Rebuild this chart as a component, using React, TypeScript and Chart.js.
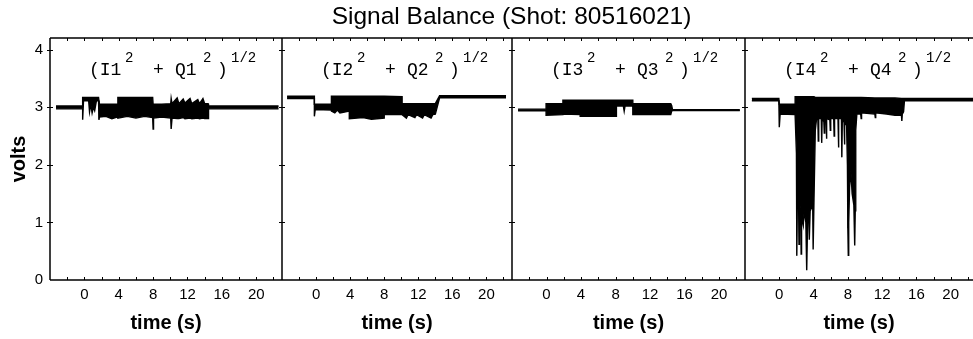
import React, { useEffect, useRef } from 'react';
import { Chart, registerables } from 'chart.js';

Chart.register(...registerables);

const TITLE = 'Signal Balance (Shot: 80516021)';
const Y_TITLE = 'volts';
const X_TITLE = 'time (s)';
const PANEL_IDS = ['1', '2', '3', '4'];
const X_MIN = -4;
const X_MAX = [23, 23, 23, 22.6];
const Y_MIN = 0;
const Y_MAX = 4.2;
const X_TICK_LABELS = [0, 4, 8, 12, 16, 20];

// Panel 1: (I1^2 + Q1^2)^1/2
const P1_TIME = [-3.3, -0.2, -0.2, -0.1, 0.5, 0.6, 0.75, 0.9, 1.05, 1.2, 1.4, 1.65, 1.7, 1.75, 2.5, 3.2, 3.9, 3.9, 5.0, 6.0, 7.0, 7.95, 8.0, 8.05, 9.0, 10.05, 10.1, 10.2, 10.8, 11.0, 11.5, 11.7, 12.3, 12.5, 13.2, 13.4, 13.8, 14.0, 14.4, 14.45, 22.6];
const P1_UPPER = [3.02, 3.02, 3.17, 3.17, 3.17, 3.17, 3.17, 3.17, 3.17, 3.17, 3.17, 3.17, 3.17, 3.05, 3.05, 3.05, 3.05, 3.17, 3.17, 3.17, 3.17, 3.17, 3.05, 3.05, 3.05, 3.06, 3.15, 3.06, 3.16, 3.06, 3.14, 3.07, 3.15, 3.06, 3.13, 3.06, 3.15, 3.06, 3.06, 3.02, 3.02];
const P1_LOWER = [2.97, 2.97, 2.78, 3.11, 3.11, 2.92, 3.05, 2.90, 3.0, 2.94, 3.11, 3.11, 2.78, 2.83, 2.84, 2.80, 2.83, 2.81, 2.84, 2.81, 2.84, 2.82, 2.62, 2.81, 2.83, 2.81, 2.62, 2.81, 2.80, 2.80, 2.82, 2.80, 2.81, 2.80, 2.81, 2.80, 2.81, 2.80, 2.80, 2.97, 2.97];

// Panel 2: (I2^2 + Q2^2)^1/2
const P2_TIME = [-3.4, -0.2, -0.2, -0.1, 1.8, 1.8, 2.2, 2.5, 2.8, 3.9, 3.9, 5.5, 6.5, 8.0, 8.0, 10.1, 10.1, 10.6, 10.8, 11.6, 11.8, 12.5, 12.7, 13.5, 13.7, 14.0, 14.5, 22.3];
const P2_UPPER = [3.19, 3.19, 3.05, 3.05, 3.05, 3.19, 3.19, 3.19, 3.19, 3.19, 3.19, 3.19, 3.19, 3.19, 3.19, 3.18, 3.06, 3.06, 3.06, 3.06, 3.06, 3.06, 3.06, 3.06, 3.06, 3.06, 3.20, 3.20];
const P2_LOWER = [3.15, 3.15, 2.84, 2.96, 2.95, 2.93, 2.90, 2.95, 2.90, 2.93, 2.80, 2.82, 2.79, 2.81, 2.87, 2.87, 2.87, 2.81, 2.87, 2.82, 2.87, 2.81, 2.87, 2.81, 2.87, 2.88, 3.16, 3.16];

// Panel 3: (I3^2 + Q3^2)^1/2
const P3_TIME = [-3.3, -0.05, -0.05, 1.9, 1.9, 3.9, 3.9, 8.1, 8.1, 8.9, 9.0, 9.1, 10.0, 10.0, 14.4, 14.5, 14.6, 22.4];
const P3_UPPER = [2.965, 2.965, 3.06, 3.06, 3.12, 3.12, 3.12, 3.12, 3.12, 3.12, 3.12, 3.12, 3.12, 3.06, 3.06, 3.03, 2.955, 2.955];
const P3_LOWER = [2.935, 2.935, 2.86, 2.87, 2.88, 2.87, 2.84, 2.84, 3.02, 3.02, 2.93, 3.02, 3.02, 2.87, 2.87, 2.93, 2.94, 2.94];

// Panel 4: (I4^2 + Q4^2)^1/2
const P4_TIME = [-3.2, -0.05, 0.0, 0.1, 1.85, 1.85, 2.0, 2.03, 2.06, 2.1, 2.25, 2.3, 2.35, 2.5, 2.55, 2.6, 2.8, 2.9, 3.1, 3.2, 3.3, 3.45, 3.5, 3.6, 3.9, 3.95, 4.05, 4.2, 4.35, 4.5, 4.55, 4.6, 4.9, 4.95, 5.0, 5.2, 5.25, 5.3, 5.45, 5.5, 5.55, 5.9, 5.95, 6.0, 6.35, 6.4, 6.45, 6.85, 6.9, 6.95, 7.25, 7.3, 7.35, 7.55, 7.6, 7.65, 7.85, 7.95, 8.0, 8.05, 8.1, 8.2, 8.35, 8.5, 8.7, 8.8, 8.86, 8.92, 9.05, 9.5, 9.55, 9.6, 11.15, 11.2, 11.25, 12.5, 13.5, 14.25, 14.3, 14.35, 14.5, 14.6, 22.6];
const P4_UPPER = [3.15, 3.15, 3.05, 3.05, 3.05, 3.18, 3.18, 3.18, 3.18, 3.18, 3.18, 3.18, 3.18, 3.18, 3.18, 3.18, 3.18, 3.18, 3.18, 3.18, 3.18, 3.18, 3.18, 3.18, 3.18, 3.18, 3.18, 3.17, 3.17, 3.17, 3.17, 3.17, 3.17, 3.17, 3.17, 3.17, 3.17, 3.17, 3.17, 3.17, 3.17, 3.17, 3.17, 3.17, 3.17, 3.17, 3.17, 3.17, 3.17, 3.17, 3.17, 3.17, 3.17, 3.17, 3.17, 3.17, 3.17, 3.17, 3.17, 3.17, 3.17, 3.17, 3.17, 3.17, 3.17, 3.17, 3.17, 3.17, 3.17, 3.17, 3.17, 3.17, 3.16, 3.16, 3.16, 3.16, 3.16, 3.15, 3.15, 3.15, 3.15, 3.15, 3.15];
const P4_LOWER = [3.11, 3.11, 2.65, 2.88, 2.87, 2.85, 2.2, 1.5, 0.42, 1.3, 1.4, 0.62, 1.35, 1.2, 0.45, 1.1, 0.95, 1.2, 1.0, 0.17, 1.0, 1.1, 0.7, 1.2, 1.3, 0.53, 1.4, 2.6, 2.8, 2.8, 2.41, 2.8, 2.8, 2.38, 2.8, 2.75, 2.55, 2.8, 2.8, 2.45, 2.8, 2.78, 2.6, 2.8, 2.8, 2.5, 2.8, 2.8, 2.3, 2.8, 2.8, 2.13, 2.75, 2.75, 2.35, 2.7, 2.7, 2.0, 0.9, 0.43, 1.0, 1.6, 1.9, 1.5, 1.3, 0.6, 1.2, 2.6, 2.88, 2.88, 2.8, 2.9, 2.88, 2.82, 2.9, 2.88, 2.86, 2.86, 2.76, 2.88, 2.92, 3.11, 3.11];

const PANELS = [
  { time: P1_TIME, upper: P1_UPPER, lower: P1_LOWER },
  { time: P2_TIME, upper: P2_UPPER, lower: P2_LOWER },
  { time: P3_TIME, upper: P3_UPPER, lower: P3_LOWER },
  { time: P4_TIME, upper: P4_UPPER, lower: P4_LOWER },
];

const PANEL_WEIGHTS = [232, 230, 233, 228];
const SANS = '"Liberation Sans", Arial, Helvetica, sans-serif';
const MONO = '"Liberation Mono", "Courier New", Courier, monospace';

const framePlugin = {
  id: 'frame',
  afterDatasetsDraw(chart: any) {
    const ctx = chart.ctx as CanvasRenderingContext2D;
    const ys = chart.scales.y;
    const top = chart.chartArea.top;
    const bottom = chart.chartArea.bottom;
    ctx.save();
    ctx.strokeStyle = '#000';
    PANELS.forEach((_, i) => {
      const xs = chart.scales['x' + i];
      ctx.lineWidth = 1.5;
      ctx.beginPath();
      ctx.moveTo(xs.left, top);
      ctx.lineTo(xs.left, bottom);
      ctx.moveTo(xs.left, top);
      ctx.lineTo(xs.right, top);
      ctx.moveTo(xs.left, bottom);
      ctx.lineTo(xs.right, bottom);
      ctx.stroke();
      ctx.lineWidth = 1;
      ctx.beginPath();
      xs.ticks.forEach((t: any) => {
        const px = Math.round(xs.getPixelForValue(t.value)) + 0.5;
        if (px <= xs.left + 2 || px >= xs.right - 1) return;
        ctx.moveTo(px, bottom);
        ctx.lineTo(px, bottom - 3);
        ctx.moveTo(px, top);
        ctx.lineTo(px, top + 3);
      });
      ys.ticks.forEach((t: any) => {
        if (t.value === Y_MIN) return;
        const py = Math.round(ys.getPixelForValue(t.value)) + 0.5;
        ctx.moveTo(xs.left - 3, py);
        ctx.lineTo(xs.left + 3, py);
      });
      ctx.stroke();
    });
    ctx.restore();
  },
  afterDraw(chart: any) {
    const ctx = chart.ctx as CanvasRenderingContext2D;
    const area = chart.chartArea;
    ctx.save();
    ctx.fillStyle = '#000';
    ctx.textAlign = 'center';
    ctx.textBaseline = 'alphabetic';
    ctx.font = `24.5px ${SANS}`;
    ctx.fillText(TITLE, (area.left + area.right) / 2, 24);
    ctx.textAlign = 'left';
    PANEL_IDS.forEach((id, i) => {
      const xs = chart.scales['x' + i];
      const pieces = [
        { text: '(I' + id, dx: 39, sup: false },
        { text: '2', dx: 75, sup: true },
        { text: '+', dx: 103, sup: false },
        { text: 'Q' + id, dx: 125, sup: false },
        { text: '2', dx: 153, sup: true },
        { text: ')', dx: 167, sup: false },
        { text: '1/2', dx: 181, sup: true },
      ];
      pieces.forEach((p) => {
        ctx.font = p.sup ? `14px ${MONO}` : `18px ${MONO}`;
        ctx.fillText(p.text, xs.left + p.dx, p.sup ? 62 : 75);
      });
    });
    ctx.restore();
  },
};

export default function App() {
  const ref = useRef<HTMLCanvasElement>(null);
  useEffect(() => {
    document.body.style.margin = '0';
    const canvas = ref.current!;
    const datasets: any[] = [];
    PANELS.forEach((p, i) => {
      const xAxisID = 'x' + i;
      datasets.push({
        data: p.time.map((t, j) => ({ x: t, y: p.upper[j] })),
        xAxisID,
        yAxisID: 'y',
        borderColor: '#000',
        backgroundColor: '#000',
        borderWidth: 1.4,
        pointRadius: 0,
        tension: 0,
        fill: '+1',
      });
      datasets.push({
        data: p.time.map((t, j) => ({ x: t, y: p.lower[j] })),
        xAxisID,
        yAxisID: 'y',
        borderColor: '#000',
        backgroundColor: '#000',
        borderWidth: 1.4,
        pointRadius: 0,
        tension: 0,
        fill: false,
      });
    });
    const scales: any = {
      y: {
        type: 'linear',
        position: 'left',
        min: Y_MIN,
        max: Y_MAX,
        grid: { display: false, drawTicks: false },
        border: { display: false },
        ticks: {
          stepSize: 1,
          includeBounds: false,
          padding: 7,
          color: '#000',
          font: { family: SANS, size: 15 },
        },
        title: {
          display: true,
          text: Y_TITLE,
          color: '#000',
          font: { family: SANS, size: 20, weight: 'bold' },
          padding: { top: 7, bottom: 0 },
        },
        afterFit: (s: any) => {
          s.width = 50;
          s.paddingTop = 0;
          s.paddingBottom = 0;
        },
      },
    };
    PANELS.forEach((_, i) => {
      scales['x' + i] = {
        type: 'linear',
        axis: 'x',
        position: 'bottom',
        stack: 'panels',
        stackWeight: PANEL_WEIGHTS[i],
        min: X_MIN,
        max: X_MAX[i],
        offset: false,
        grid: { display: false, drawTicks: false },
        border: { display: false },
        ticks: {
          stepSize: 2,
          includeBounds: false,
          autoSkip: false,
          maxRotation: 0,
          minRotation: 0,
          padding: 6,
          color: '#000',
          font: { family: SANS, size: 15 },
          callback: (v: any) => (X_TICK_LABELS.includes(Number(v)) ? String(v) : ''),
        },
        title: {
          display: true,
          text: X_TITLE,
          color: '#000',
          font: { family: SANS, size: 20, weight: 'bold' },
          padding: { top: 0, bottom: 4 },
        },
        afterFit: (s: any) => {
          s.height = 59;
          s.paddingLeft = 0;
          s.paddingRight = 0;
        },
      };
    });
    const chart = new Chart(canvas, {
      type: 'line',
      data: { datasets },
      options: {
        responsive: false,
        animation: false,
        devicePixelRatio: 1,
        layout: { padding: { top: 38, left: 0, right: 0, bottom: 0 } },
        plugins: {
          legend: { display: false },
          tooltip: { enabled: false },
          title: { display: false },
        },
        scales,
      },
      plugins: [framePlugin],
    } as any);
    return () => chart.destroy();
  }, []);
  return <canvas ref={ref} width={973} height={339} style={{ display: 'block' }} />;
}
